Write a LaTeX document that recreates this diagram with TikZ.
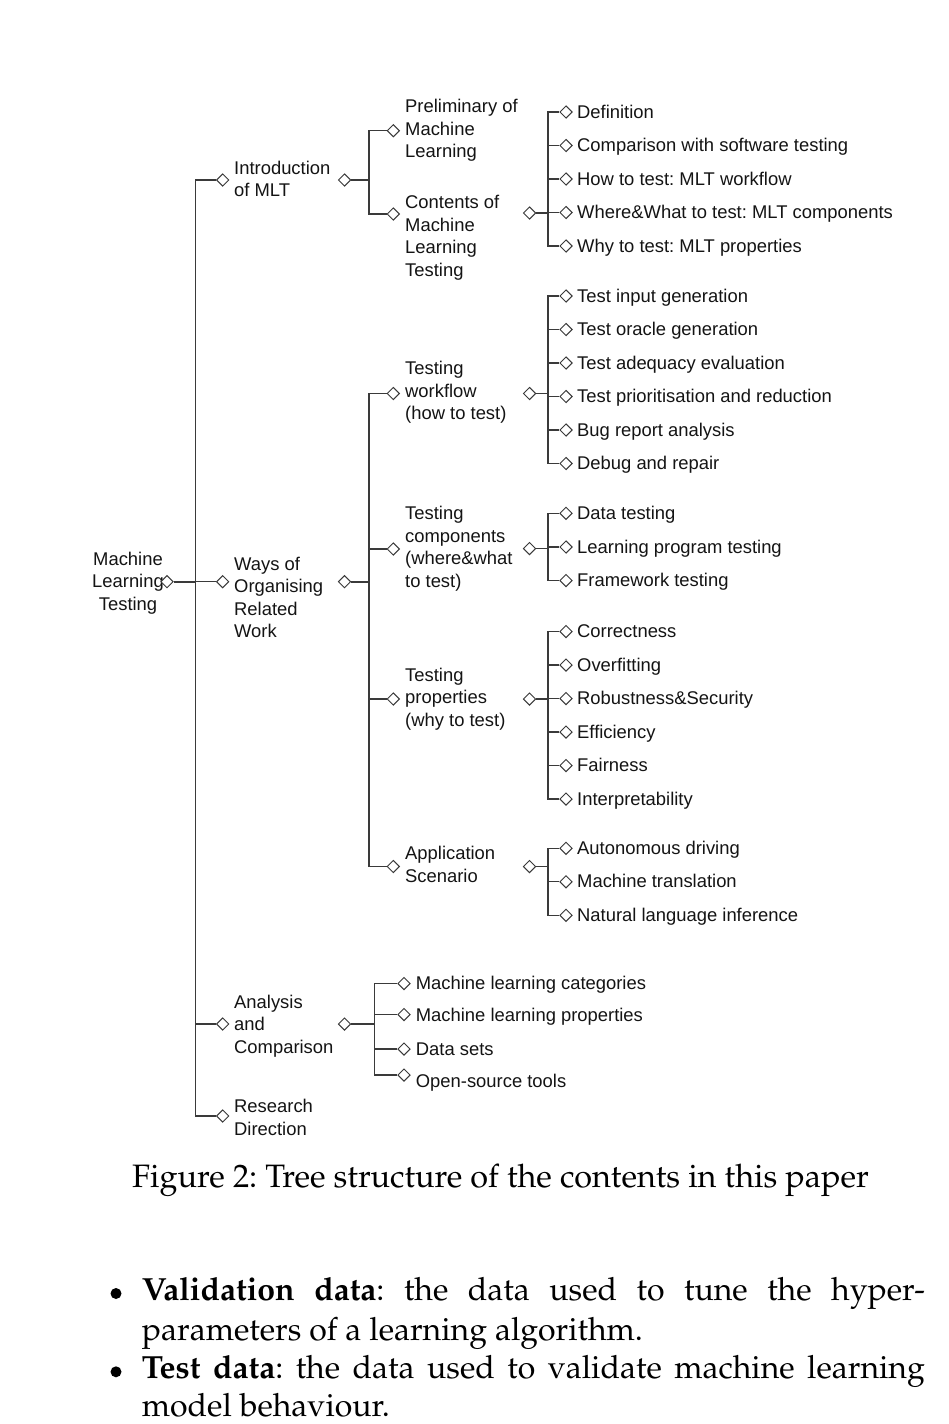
\documentclass[tikz,border=0pt]{standalone}
\usepackage[T1,TU]{fontenc}
\usepackage{fontspec}
\setmainfont{Liberation Sans}
\usetikzlibrary{shapes.geometric}
\definecolor{linec}{HTML}{3A3A3A}
\definecolor{textc}{HTML}{141414}
\newcommand\palsize{\fontencoding{T1}\fontfamily{ppl}\fontsize{32}{38.4}\selectfont\frenchspacing}
\newcommand\capsize{\fontencoding{T1}\fontfamily{ppl}\fontsize{32.4}{38.4}\selectfont\frenchspacing}
\begin{document}
\begin{tikzpicture}[x=1pt,y=-1pt,
  dia/.style={diamond,draw=linec,fill=white,line width=1pt,minimum width=12.5pt,minimum height=12.5pt,inner sep=0pt},
  ln/.style={draw=linec,line width=1.1pt},
  lnb/.style={draw=linec,line width=1.7pt},
  lab/.style={font=\fontsize{18.4}{22.5}\selectfont\frenchspacing,text=textc,inner sep=0pt,align=left,anchor=north west},
  leaf/.style={font=\fontsize{18.4}{22.5}\selectfont\frenchspacing,text=textc,inner sep=0pt,anchor=base west},
  body/.style={font=\palsize,text=black,inner sep=0pt,anchor=base west},
  bul/.style={circle,fill=black,minimum size=11pt,inner sep=0pt}]
\fill[white] (0,0) rectangle (948,1424);
\useasboundingbox (0,0) rectangle (948,1424);

% root
\node[lab,align=center,anchor=north] (root) at (128,551.7) {Machine\\Learning\\Testing};
\node[dia] (rootd) at (167,581.7) {};

% level 1
\node[dia] (d1) at (222.7,180) {};
\node[lab] (t1) at (234,160.5) {Introduction\\of MLT};
\node[dia] (r1) at (344.5,180) {};
\node[dia] (d2) at (222.7,581.7) {};
\node[lab] (t2) at (234,556.7) {Ways of\\Organising\\Related\\Work};
\node[dia] (r2) at (344.5,581.7) {};
\node[dia] (d3) at (222.7,1024) {};
\node[lab] (t3) at (234,994.5) {Analysis\\and\\Comparison};
\node[dia] (r3) at (344.5,1024) {};
\node[dia] (d4) at (222.7,1116) {};
\node[lab] (t4) at (234,1099) {Research\\Direction};

\draw[lnb] (rootd.east) -- ++(21.5,0);
\foreach \c in {d1,d2,d3,d4} \draw[ln] (rootd.east) ++(21.5,0) |- (\c.west);

% level 2: introduction
\node[dia] (p1) at (393.3,130.7) {};
\node[lab] (pt1) at (405,99) {Preliminary of\\Machine\\Learning};
\node[dia] (p2) at (393.3,214) {};
\node[lab] (pt2) at (405,195) {Contents of\\Machine\\Learning\\Testing};
\node[dia] (q2) at (529.5,213) {};
\draw[lnb] (r1.east) -- ++(17.7,0);
\foreach \c in {p1,p2} \draw[ln] (r1.east) ++(17.7,0) |- (\c.west);

% level 2: ways of organising
\node[dia] (w1) at (393.3,393.5) {};
\node[lab] (wt1) at (405,361.2) {Testing\\workflow\\(how to test)};
\node[dia] (qw1) at (529.5,393.5) {};
\node[dia] (w2) at (393.3,549) {};
\node[lab] (wt2) at (405,506) {Testing\\components\\(where\&what\\to test)};
\node[dia] (qw2) at (529.5,548.5) {};
\node[dia] (w3) at (393.3,699) {};
\node[lab] (wt3) at (405,667.5) {Testing\\properties\\(why to test)};
\node[dia] (qw3) at (529.5,699) {};
\node[dia] (w4) at (393.3,866.5) {};
\node[lab] (wt4) at (405,846) {Application\\Scenario};
\node[dia] (qw4) at (529.5,866.5) {};
\draw[lnb] (r2.east) -- ++(17.7,0);
\foreach \c in {w1,w2,w3,w4} \draw[ln] (r2.east) ++(17.7,0) |- (\c.west);

% level 3: contents
\foreach \y/\t [count=\i] in {112/Definition,145.5/Comparison with software testing,179/How to test: MLT workflow,212.5/Where\&What to test: MLT components,246/Why to test: MLT properties}{
  \node[dia] (a\i) at (566,\y) {};
  \node[leaf] (at\i) at (577,\y+6) {\t};
  \draw[ln] (q2.east) -- ++(11.7,0) |- (a\i.west);
}
\foreach \y/\t [count=\i] in {296/Test input generation,329.5/Test oracle generation,363/Test adequacy evaluation,396.5/Test prioritisation and reduction,430/Bug report analysis,463.5/Debug and repair}{
  \node[dia] (b\i) at (566,\y) {};
  \node[leaf] (bt\i) at (577,\y+6) {\t};
  \draw[ln] (qw1.east) -- ++(11.7,0) |- (b\i.west);
}
\foreach \y/\t [count=\i] in {513.3/Data testing,547/Learning program testing,580.5/Framework testing}{
  \node[dia] (c\i) at (566,\y) {};
  \node[leaf] (ct\i) at (577,\y+6) {\t};
  \draw[ln] (qw2.east) -- ++(11.7,0) |- (c\i.west);
}
\foreach \y/\t [count=\i] in {631.5/Correctness,665/Overfitting,698.5/Robustness\&Security,732/Efficiency,765.5/Fairness,799/Interpretability}{
  \node[dia] (e\i) at (566,\y) {};
  \node[leaf] (et\i) at (577,\y+6) {\t};
  \draw[ln] (qw3.east) -- ++(11.7,0) |- (e\i.west);
}
\foreach \y/\t [count=\i] in {848.3/Autonomous driving,881.8/Machine translation,915.3/Natural language inference}{
  \node[dia] (f\i) at (566,\y) {};
  \node[leaf] (ft\i) at (577,\y+6) {\t};
  \draw[ln] (qw4.east) -- ++(11.7,0) |- (f\i.west);
}

% analysis children
\draw[lnb] (r3.east) -- ++(23,0);
\foreach \y/\ty/\t [count=\i] in {983.5/983.5/Machine learning categories,1014.5/1015/Machine learning properties,1049/1049/Data sets,1075/1081.5/Open-source tools}{
  \node[dia] (g\i) at (404,\y) {};
  \node[leaf] (gt\i) at (415.7,\ty+6) {\t};
  \draw[ln] (r3.east) ++(23,0) |- (g\i.west);
}

% caption and body text
\node[body,font=\capsize] (cap) at (132,1187) {Figure 2: Tree structure of the contents in this paper};
\node[bul] (bul1) at (116,1293.5) {};
\node[body] (l1) at (141.7,1300) {\makebox[783pt][s]{\bfseries Validation data\mdseries: the data used to tune the hyper-}};
\node[body] (l2) at (141.7,1340) {parameters of a learning algorithm.};
\node[bul] (bul2) at (116,1371.8) {};
\node[body] (l3) at (141.7,1378.3) {\makebox[783pt][s]{\bfseries Test data\mdseries: the data used to validate machine learning}};
\node[body] (l4) at (141.7,1416) {model behaviour.};
\end{tikzpicture}
\end{document}
